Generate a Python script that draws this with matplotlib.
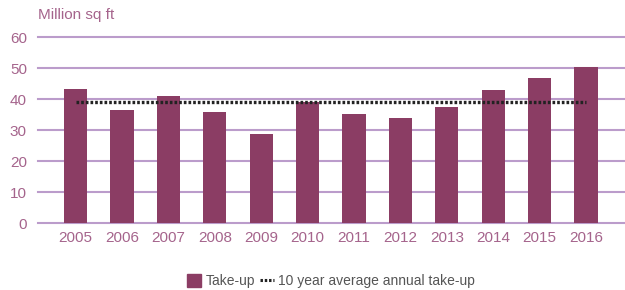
import numpy as np
import matplotlib.pyplot as plt
from matplotlib.lines import Line2D
from matplotlib.patches import Patch

years = ["2005", "2006", "2007", "2008", "2009", "2010",
         "2011", "2012", "2013", "2014", "2015", "2016"]
take_up = [43.2, 36.5, 41.0, 35.8, 28.7, 39.0, 35.2, 33.9, 37.4, 42.9, 46.8, 50.3]
avg_take_up = 38.9

bar_color = "#8b3d64"
grid_color = "#bb9ccb"
tick_color = "#a5648c"

plt.rcParams["font.family"] = ["Liberation Sans", "DejaVu Sans"]

fig = plt.figure(figsize=(6.25, 2.9), dpi=100)
ax = fig.add_axes([0.0608, 0.231, 0.9392, 0.641])

x = np.arange(len(years))
ax.bar(x, take_up, width=0.5, color=bar_color, zorder=3)
ax.plot([x[0], x[-1]], [avg_take_up, avg_take_up], color="#222222",
        linestyle=(0, (0.8, 0.6)), linewidth=2.4, zorder=4)

for v in range(0, 61, 10):
    ax.axhline(v, color=grid_color, linewidth=1.5, zorder=1, clip_on=False)

ax.set_xlim(-0.81, 11.84)
ax.set_ylim(0, 60)
ax.set_yticks(range(0, 61, 10))
ax.set_xticks(x)
ax.set_xticklabels(years)
ax.tick_params(axis="both", length=0, labelsize=11, colors=tick_color)
ax.tick_params(axis="y", pad=8)
ax.tick_params(axis="x", pad=6)
for s in ax.spines.values():
    s.set_visible(False)

fig.text(0.0608, 0.948, "Million sq ft", fontsize=11, color=tick_color,
         ha="left", va="center")

handles = [Patch(color=bar_color),
           Line2D([0], [0], color="#222222", linestyle=(0, (0.8, 0.6)), linewidth=2.2)]
fig.legend(handles, ["Take-up", "10 year average annual take-up"],
           loc="center", bbox_to_anchor=(0.53, 0.03), ncol=2, frameon=False,
           fontsize=10, labelcolor="#555555", handlelength=1.0, handleheight=1.0,
           handletextpad=0.3, columnspacing=0.4)

fig.savefig("out.png", dpi=100)
